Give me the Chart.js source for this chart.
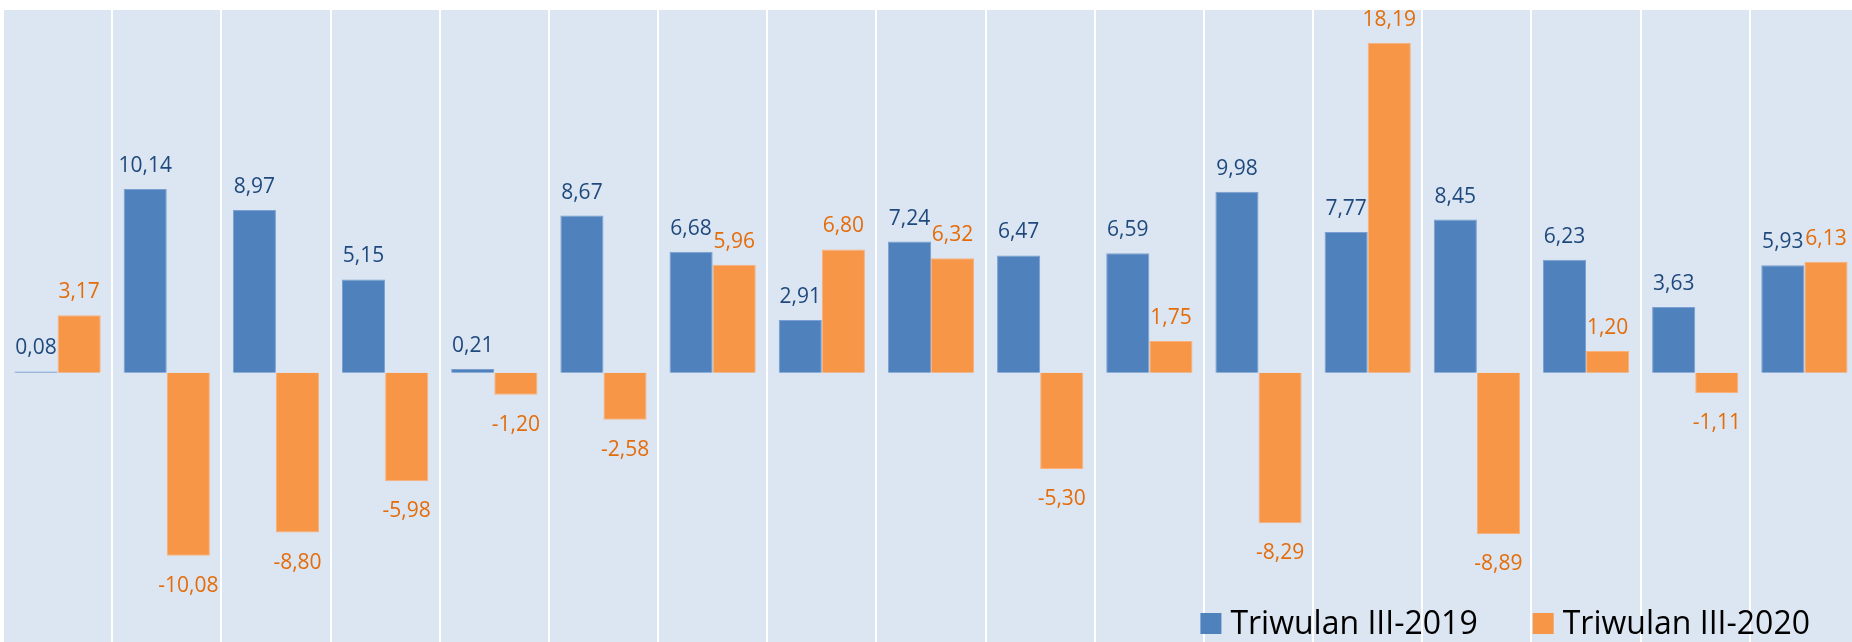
<!DOCTYPE html>
<html>
<head>
<meta charset="utf-8">
<script src="https://cdn.jsdelivr.net/npm/chart.js@4/dist/chart.umd.min.js"></script>
<style>
  html, body { margin: 0; padding: 0; background: #fff; overflow: hidden; }
  #growth { display: block; }
</style>
</head>
<body>
<canvas id="growth" width="1860" height="650"></canvas>
<script>
// categories have no visible names in the picture, so just numbered
var categories = ['1','2','3','4','5','6','7','8','9','10','11','12','13','14','15','16','17'];
var seriesNames = ['Triwulan III-2019', 'Triwulan III-2020'];
var q3_2019 = [0.08, 10.14, 8.97, 5.15, 0.21, 8.67, 6.68, 2.91, 7.24, 6.47, 6.59, 9.98, 7.77, 8.45, 6.23, 3.63, 5.93];
var q3_2020 = [3.17, -10.08, -8.80, -5.98, -1.20, -2.58, 5.96, 6.80, 6.32, -5.30, 1.75, -8.29, 18.19, -8.89, 1.20, -1.11, 6.13];
var yMin = -15, yMax = 20;

var barColors = ['#4f81bd', '#f79646'];
var barBorders = ['#7a9fd0', '#f9b07a'];
var labelColors = ['#1f497d', '#e46c0a'];

function fmt(v) {
    return v.toFixed(2).replace('.', ',');
}

// plot area fill
var plotBg = {
    id: 'plotBg',
    beforeDraw: function(chart) {
        var a = chart.chartArea, c = chart.ctx;
        c.save();
        c.fillStyle = '#dce6f2';
        c.fillRect(a.left, a.top, a.right - a.left, a.bottom - a.top);
        c.restore();
    }
};

// value labels above / below each bar
var valueLabels = {
    id: 'valueLabels',
    afterDatasetsDraw: function(chart) {
        var c = chart.ctx;
        c.save();
        c.font = '21px "Open Sans"';
        c.textAlign = 'center';
        c.textBaseline = 'alphabetic';
        chart.data.datasets.forEach(function(ds, i) {
            var meta = chart.getDatasetMeta(i);
            c.fillStyle = labelColors[i];
            meta.data.forEach(function(bar, j) {
                var v = ds.data[j];
                var y = v >= 0 ? bar.y - 17 : bar.y + 36;
                c.fillText(fmt(v), bar.x, y);
            });
        });
        c.restore();
    }
};

// legend sits inside the plot, bottom right
var innerLegend = {
    id: 'innerLegend',
    afterDraw: function(chart) {
        var a = chart.chartArea, c = chart.ctx;
        var box = 21, gapText = 9, gapItem = 55;
        c.save();
        c.font = '32px "Open Sans"';
        c.textBaseline = 'alphabetic';
        var total = 0;
        chart.data.datasets.forEach(function(ds, i) {
            total += box + gapText + c.measureText(ds.label).width;
            if (i > 0) total += gapItem;
        });
        var x = a.right - 49 - total;
        var base = a.bottom - 11;
        chart.data.datasets.forEach(function(ds, i) {
            c.fillStyle = barColors[i];
            c.fillRect(x, base - box, box, box);
            x += box + gapText;
            c.fillStyle = '#000';
            c.fillText(ds.label, x, base);
            x += c.measureText(ds.label).width + gapItem;
        });
        c.restore();
    }
};

var ctx = document.getElementById('growth').getContext('2d');
var chart = new Chart(ctx, {
    type: 'bar',
    data: {
        labels: categories,
        datasets: [{
            label: seriesNames[0],
            data: q3_2019,
            backgroundColor: barColors[0],
            borderColor: barBorders[0],
            borderWidth: 1
        }, {
            label: seriesNames[1],
            data: q3_2020,
            backgroundColor: barColors[1],
            borderColor: barBorders[1],
            borderWidth: 1
        }]
    },
    options: {
        responsive: false,
        animation: false,
        layout: { padding: { top: 10, bottom: 5, left: 3, right: 1 } },
        categoryPercentage: 0.79,
        barPercentage: 1.0,
        plugins: {
            legend: { display: false },
            tooltip: { enabled: false }
        },
        scales: {
            x: {
                offset: true,
                ticks: { display: false },
                border: { display: false },
                grid: { offset: true, color: '#ffffff', lineWidth: 2, drawTicks: false }
            },
            y: {
                display: false,
                min: yMin,
                max: yMax
            }
        }
    },
    plugins: [plotBg, valueLabels, innerLegend]
});
</script>
</body>
</html>
